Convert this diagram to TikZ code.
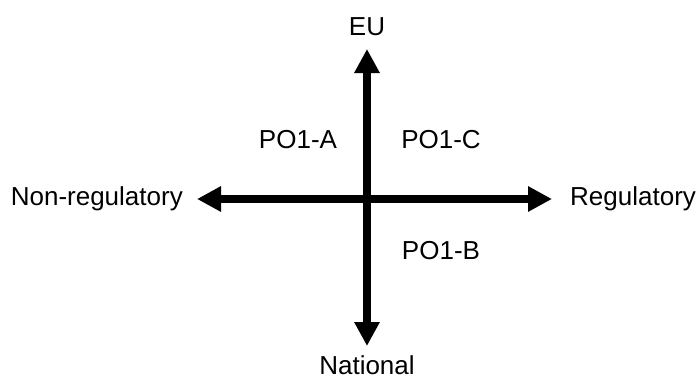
\documentclass[tikz,border=0pt]{standalone}
\usepackage{fontspec}
\setmainfont{Liberation Sans}
\usetikzlibrary{arrows.meta}

\begin{document}
\begin{tikzpicture}[x=1pt,y=-1pt,
  axis/.style={line width=8pt,{Triangle[width=24pt,length=24pt]}-{Triangle[width=24pt,length=24pt]}},
  lbl/.style={font=\fontsize{26}{30}\selectfont,inner sep=0pt}]
 \useasboundingbox (0,0) rectangle (699,381);
 % tips of the two axes
  \coordinate (top)    at (367,49);
  \coordinate (bottom) at (367,346);
  \coordinate (left)   at (197,199);
  \coordinate (right)  at (552,199);
  \node[lbl] (eu)     at (367,27)  {EU};
  \node[lbl] (nat)    at (367,365) {National};
  \node[lbl,anchor=east] (nonreg) at (183,199) {Non-regulatory};
  \node[lbl,anchor=west] (reg)    at (570,199) {Regulatory};
  \node[lbl] (poa) at (298,140) {PO1-A};
  \node[lbl] (poc) at (441,140) {PO1-C};
  \node[lbl] (pob) at (441,251) {PO1-B};
  \draw[axis] (top) -- (bottom);
  \draw[axis] (left) -- (right);
\end{tikzpicture}
\end{document}
